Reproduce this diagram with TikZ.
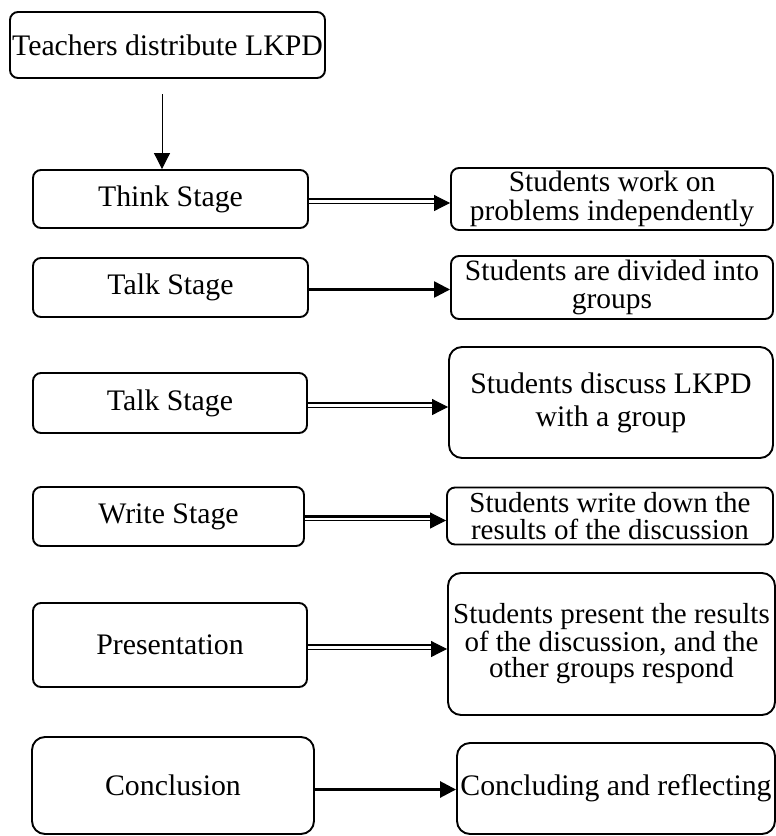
\documentclass[tikz,border=0pt]{standalone}
\usepackage{fontspec}
\setmainfont{Liberation Serif}
\usetikzlibrary{arrows.meta}
\tikzset{
  box/.style={draw, line width=1.9pt, rounded corners=8pt, inner sep=0pt, align=center,
    font=\fontsize{29.8}{28}\selectfont},
  bigbox/.style={box, rounded corners=13pt},
  thickln/.style={line width=2.4pt},
  thinln/.style={line width=1pt},
  tip/.style={-{Triangle[length=16pt,width=16pt]}},
}
\begin{document}
\begin{tikzpicture}[x=1pt,y=-1pt]
\useasboundingbox (0,0) rectangle (776,836);
\node[box, minimum width=315, minimum height=66] (teach) at (167.5,45) {Teachers distribute LKPD};
\node[box, minimum width=275, minimum height=58] (think) at (170.5,199) {Think Stage};
\node[box, minimum width=322, minimum height=62, font=\fontsize{29.5}{29}\selectfont] (a1) at (612,199) {Students work on\\problems independently};
\node[box, minimum width=275, minimum height=59] (talka) at (170.5,287.5) {Talk Stage};
\node[box, minimum width=322, minimum height=63, font=\fontsize{29.5}{28}\selectfont] (a2) at (612,287.5) {Students are divided into\\groups};
\node[box, minimum width=274, minimum height=60] (talkb) at (170,403) {Talk Stage};
\node[bigbox, minimum width=324, minimum height=111, font=\fontsize{29.8}{33}\selectfont] (a3) at (611,402.5) {Students discuss LKPD\\with a group};
\node[box, minimum width=271, minimum height=59] (write) at (168.5,516.5) {Write Stage};
\node[box, minimum width=326, minimum height=57, font=\fontsize{29}{27}\selectfont] (a4) at (610,516) {Students write down the\\results of the discussion};
\node[box, minimum width=274, minimum height=84] (pres) at (170,645) {Presentation};
\node[bigbox, minimum width=327, minimum height=142, font=\fontsize{29}{26.5}\selectfont] (a5) at (611.5,644) {Students present the results\\of the discussion, and the\\other groups respond};
\node[bigbox, minimum width=282, minimum height=97] (concl) at (173,785.5) {Conclusion};
\node[bigbox, minimum width=318, minimum height=91] (a6) at (616,788.5) {Concluding and reflecting};

\coordinate (vstart) at (162,94);
\draw[thinln, tip] (vstart) -- (vstart |- think.north);

% double arrows
\foreach \s/\t in {think/a1, talkb/a3, write/a4, pres/a5}{
  \draw[thickln] (\s.east) -- ([xshift=-14pt]\s.east -| \t.west);
  \draw[thinln, tip] ([yshift=-4pt]\s.east) -- ([yshift=-4pt]\s.east -| \t.west);
}
% single arrows
\draw[thickln, tip] ([yshift=-2pt]talka.east) -- ([yshift=-2pt]talka.east -| a2.west);
\draw[line width=2.8pt, tip] ([yshift=-4pt]concl.east) -- ([yshift=-4pt]concl.east -| a6.west);
\end{tikzpicture}
\end{document}
